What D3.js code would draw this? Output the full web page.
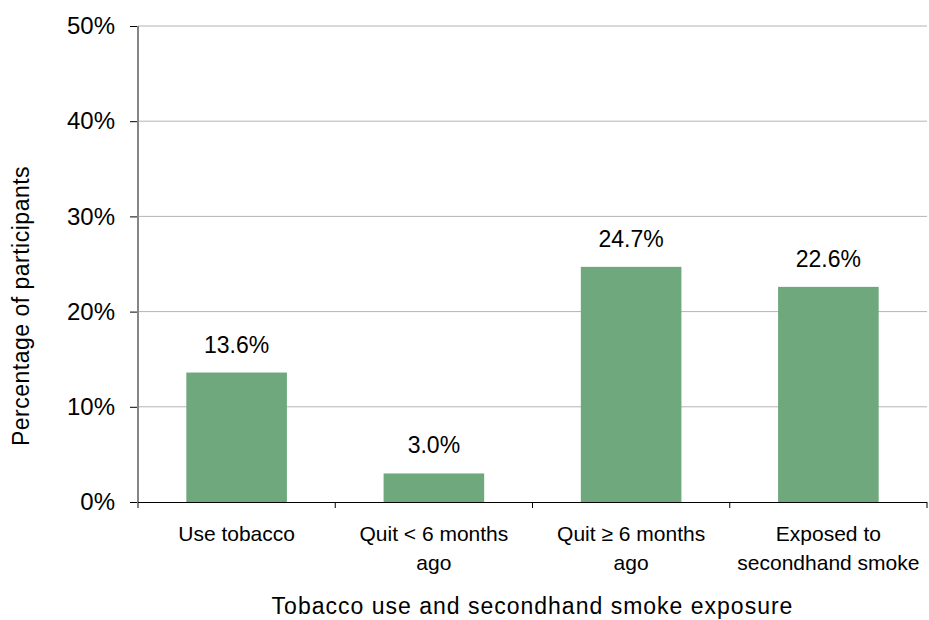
<!DOCTYPE html>
<html>
<head>
<meta charset="utf-8">
<script src="https://cdn.jsdelivr.net/npm/d3@7"></script>
<style>
  body { margin: 0; background: #fff; }
  text { font-family: "Liberation Sans", Arial, sans-serif; fill: #000; }
</style>
</head>
<body>
<svg id="chart" width="929" height="620"></svg>
<script>
const categories = [
  ["Use tobacco"],
  ["Quit < 6 months", "ago"],
  ["Quit \u2265 6 months", "ago"],
  ["Exposed to", "secondhand smoke"]
];
const values = [13.6, 3.0, 24.7, 22.6];
const valueLabels = ["13.6%", "3.0%", "24.7%", "22.6%"];
const yTicks = [0, 10, 20, 30, 40, 50];
const xTitle = "Tobacco use and secondhand smoke exposure";
const yTitle = "Percentage of participants";

const svg = d3.select("#chart");
const m = { left: 138, right: 927, top: 26, bottom: 502 };

const x = d3.scaleBand().domain(d3.range(categories.length))
  .range([m.left, m.right]).paddingInner(0.49).paddingOuter(0.245);
const y = d3.scaleLinear().domain([0, 50]).range([m.bottom, m.top]);

// gridlines
svg.append("g").selectAll("line").data(yTicks.filter(d => d > 0)).join("line")
  .attr("x1", m.left).attr("x2", m.right)
  .attr("y1", d => y(d)).attr("y2", d => y(d))
  .attr("stroke", "#b4b4b4").attr("stroke-width", 1);

// bars
svg.append("g").selectAll("rect").data(values).join("rect")
  .attr("x", (d, i) => x(i)).attr("width", x.bandwidth())
  .attr("y", d => y(d)).attr("height", d => y(0) - y(d))
  .attr("fill", "#70a87e");

// value labels
svg.append("g").selectAll("text").data(values).join("text")
  .attr("x", (d, i) => x(i) + x.bandwidth() / 2)
  .attr("y", d => y(d) - 20)
  .attr("text-anchor", "middle")
  .attr("font-size", 23)
  .text((d, i) => valueLabels[i]);

// y axis
const yAxis = svg.append("g").attr("transform", `translate(${m.left},0)`)
  .call(d3.axisLeft(y).tickValues(yTicks).tickFormat(d => d + "%").tickSize(8).tickPadding(15));
yAxis.select(".domain").remove();
yAxis.selectAll(".tick line").attr("stroke", "#000");
yAxis.selectAll(".tick text").attr("font-size", 24).attr("font-family", "Liberation Sans, Arial, sans-serif").attr("fill", "#000");
svg.append("line").attr("x1", m.left).attr("x2", m.left)
  .attr("y1", m.top).attr("y2", m.bottom + 6)
  .attr("stroke", "#868686").attr("stroke-width", 2);

// x axis
const tickPositions = d3.range(categories.length + 1).map(i =>
  i < categories.length ? x(i) - x.step() * x.paddingInner() / 2 : m.right);
svg.append("line").attr("x1", m.left).attr("x2", m.right)
  .attr("y1", m.bottom + 0.5).attr("y2", m.bottom + 0.5)
  .attr("stroke", "#000").attr("stroke-width", 1);
svg.append("g").selectAll("line").data(tickPositions.slice(1)).join("line")
  .attr("x1", d => d).attr("x2", d => d)
  .attr("y1", m.bottom).attr("y2", m.bottom + 6)
  .attr("stroke", "#000").attr("stroke-width", 1);

// category labels
const cl = svg.append("g").selectAll("text").data(categories).join("text")
  .attr("text-anchor", "middle").attr("font-size", 21);
cl.each(function (lines, i) {
  d3.select(this).selectAll("tspan").data(lines).join("tspan")
    .attr("x", x(i) + x.bandwidth() / 2)
    .attr("y", (d, j) => 541 + j * 29)
    .text(d => d);
});

// axis titles
svg.append("text").attr("x", (m.left + m.right) / 2).attr("y", 614)
  .attr("text-anchor", "middle").attr("font-size", 23).attr("letter-spacing", 1)
  .text(xTitle);
svg.append("text").attr("transform", `translate(29,${(m.top + m.bottom) / 2 + 42}) rotate(-90)`)
  .attr("text-anchor", "middle").attr("font-size", 23).attr("letter-spacing", 0.5)
  .text(yTitle);
</script>
</body>
</html>
